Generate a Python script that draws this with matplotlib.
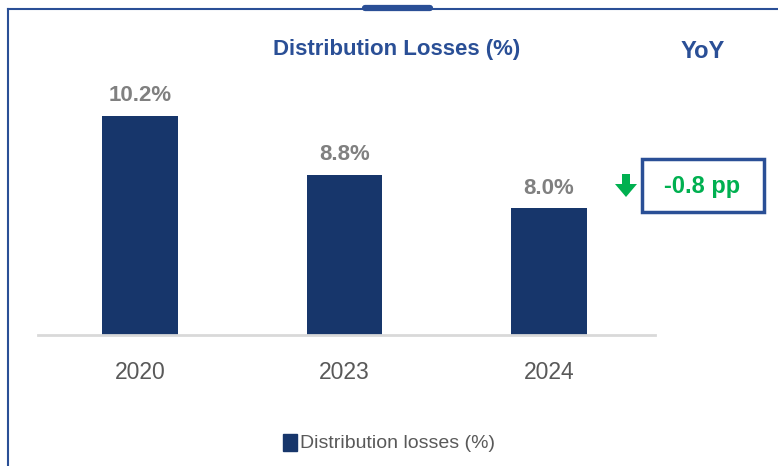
import matplotlib.pyplot as plt
from matplotlib.patches import Rectangle, Polygon
from matplotlib.lines import Line2D

# Data
jaren = ['2020', '2023', '2024']
verlies = [10.2, 8.8, 8.0]
labels = ['10.2%', '8.8%', '8.0%']
yoy_tekst = '-0.8 pp'

NAVY = '#17366b'
BLUE = '#2a4f96'
GREEN = '#00b050'
GRAY_LBL = '#808080'
GRAY_TICK = '#595959'

plt.rcParams['font.family'] = ['Liberation Sans', 'DejaVu Sans']

fig = plt.figure(figsize=(7.78, 4.66), dpi=100)
ax = fig.add_axes([38 / 778, 1 - 335 / 466, (655 - 38) / 778, (335 - 82) / 466])

x = list(range(len(jaren)))
ax.bar(x, verlies, width=0.37, bottom=0, color=NAVY, zorder=2)
ax.set_ylim(5, 11)
ax.set_xlim(-0.5, 2.52)

for xi, v, lab in zip(x, verlies, labels):
    ax.text(xi, v + 0.22, lab, ha='center', va='bottom', fontsize=16,
            fontweight='bold', color=GRAY_LBL)

ax.set_xticks(x)
ax.set_xticklabels(jaren, fontsize=16.5, color=GRAY_TICK)
ax.tick_params(axis='x', length=0, pad=19)
ax.set_yticks([])
for s in ['top', 'right', 'left']:
    ax.spines[s].set_visible(False)
ax.spines['bottom'].set_color('#d9d9d9')
ax.spines['bottom'].set_linewidth(2)
ax.spines['bottom'].set_zorder(3)

# Titel en YoY
fig.text(397 / 778, 1 - 49 / 466, 'Distribution Losses (%)', ha='center', va='center',
         fontsize=16, fontweight='bold', color=BLUE)
fig.text(703 / 778, 1 - 51 / 466, 'YoY', ha='center', va='center',
         fontsize=17, fontweight='bold', color=BLUE)

# YoY box
fig.patches.append(Rectangle((642 / 778, 1 - 212 / 466), 122 / 778, 53 / 466,
                             transform=fig.transFigure, fill=False,
                             edgecolor=BLUE, linewidth=2.5))
fig.text(702 / 778, 1 - 186 / 466, yoy_tekst, ha='center', va='center',
         fontsize=17, fontweight='bold', color=GREEN)
# pijl omlaag
pijl = [(622, 174), (630, 174), (630, 184), (637, 184), (626, 197),
        (615, 184), (622, 184)]
fig.patches.append(Polygon([(px / 778, 1 - py / 466) for px, py in pijl],
                           closed=True, transform=fig.transFigure,
                           color=GREEN, linewidth=0))

# Legenda
fig.patches.append(Rectangle((283 / 778, 1 - 451 / 466), 14 / 778, 17 / 466,
                             transform=fig.transFigure, color=NAVY))
fig.text(300 / 778, 1 - 443 / 466, 'Distribution losses (%)', ha='left', va='center',
         fontsize=14, color=GRAY_TICK)

# Kader
fig.add_artist(Line2D([8 / 778, 8 / 778], [0, 1 - 9 / 466], transform=fig.transFigure,
                      color=BLUE, linewidth=1.5))
fig.add_artist(Line2D([8 / 778, 1], [1 - 9 / 466, 1 - 9 / 466], transform=fig.transFigure,
                      color=BLUE, linewidth=1.5))
fig.add_artist(Line2D([365 / 778, 430 / 778], [1 - 8 / 466, 1 - 8 / 466],
                      transform=fig.transFigure, color=BLUE, linewidth=4.5,
                      solid_capstyle='round'))

fig.savefig('out.png', dpi=100)
